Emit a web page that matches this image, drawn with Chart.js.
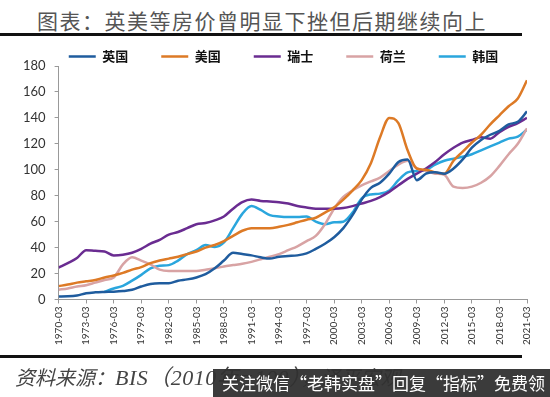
<!DOCTYPE html>
<html><head><meta charset="utf-8">
<script src="https://cdn.jsdelivr.net/npm/chart.js@4/dist/chart.umd.min.js"></script>
<style>
html,body{margin:0;padding:0;background:#fff;width:550px;height:397px;overflow:hidden;position:relative;}
#title{position:absolute;left:37px;top:7px;font-family:"Noto Sans CJK SC";font-size:21px;line-height:26px;color:#555;letter-spacing:1.5px;white-space:nowrap;}
.rule{position:absolute;left:0;width:522px;height:3px;background:#111;}
#chartBox{position:absolute;left:0;top:17px;width:550px;height:340px;}
#src{position:absolute;left:15px;top:364px;font-family:"Liberation Serif","Noto Sans CJK SC";font-style:italic;font-size:20px;line-height:28px;color:#444;white-space:nowrap;}
#src .lat{font-size:22px;letter-spacing:0.5px;}
#wm{position:absolute;left:213px;top:369px;width:337px;height:28px;background:rgba(48,48,48,0.95);color:#fff;font-family:"Noto Sans CJK SC";font-size:17px;line-height:28px;padding-left:9px;box-sizing:border-box;white-space:nowrap;}
</style></head>
<body>
<div id="title">图表：英美等房价曾明显下挫但后期继续向上</div>
<div class="rule" style="top:33px"></div>
<div id="chartBox"><canvas id="c" width="550" height="340"></canvas></div>
<div class="rule" style="top:355px"></div>
<div id="src">资料来源：<span class="lat">BIS（2010年=100）</span>，泽平宏观</div>
<div id="wm">关注微信“老韩实盘”回复“指标”免费领</div>
<script>
const years = [];
for (let y = 1970; y <= 2021; y++) years.push(y);
const seriesNames = ['英国','美国','瑞士','荷兰','韩国'];
const ukValues = [2.3,2.4,3.0,4.8,5.5,5.8,6,6.5,7.5,10, 12,12.6,12.6,14.5,15.5,17,19.5,24,30,36, 35,34,32.5,31.5,33,33.5,34,35.5,39,43, 48,55,65,77,86,90,97,106,108,92, 97,98,97,101,108,117,123,127,130,135, 137,145];
const usValues = [10.3,11.5,13,14,15,17,18.5,20.5,23,25, 28,30,31.5,33,35,37,40,42,45,49, 53,55,55,55,56,57.5,59.5,61.5,63,67, 71,77,84,92,105,125,140,136,115,101, 100,98,97,107,114,121,127,135,142,149, 155,169];
const chValues = [24.5,28,32,38,37.5,37,34,34.5,36,39, 43,46,50,52,55,58,59,61,64,70, 75,77,76,75.5,75,74,72,71,70,70, 70,70.5,72,74,76,79,83,88,93,97, 101,106,112,117,121,123,125,124,129,133, 136,140];
const nlValues = [7.5,8.5,10,11,13,15,17,27,32.5,30, 27,23,22,22,22,22,23,24,25.5,26.5, 27.5,29,31,33,35,38,41,45,49,58, 70,79,84,88,91,94,99,104,107,101, 99,97,96,87,86,87,90,95,103,112, 120,132];
const krValues = [null,null,null,null,null,6,8.5,10.5,14.5,19, 24,26,26.5,30,35,38,42,40.5,44,55, 66,72,69,65,64,63.6,63.6,64,60,58, 59.5,60,67,78,81,81.6,84,92,98,99, 100,104,107,108.5,110,112,115,118,121,124, 125.5,131];
const colors = ['#1F5C9E','#DD7A26','#6A2C91','#D8A3A4','#2AA6DD'];
const allValues = [ukValues, usValues, chValues, nlValues, krValues];
const yTicksMax = 180, yStep = 20, xStep = 3;

const datasets = allValues.map((vals, i) => ({
  label: seriesNames[i],
  data: years.map((y, j) => ({x: y, y: vals[j]})),
  borderColor: colors[i],
  backgroundColor: colors[i],
  borderWidth: 2.5,
  pointRadius: 0,
  tension: 0.2,
  cubicInterpolationMode: 'monotone',
  spanGaps: false
}));

const legendShift = {
  id: 'legendShift',
  afterLayout(chart) {
    const l = chart.legend;
    if (l) { l.left += 13; l.right += 13; }
  }
};

new Chart(document.getElementById('c'), {
  type: 'line',
  data: { datasets },
  plugins: [legendShift],
  options: {
    responsive: false,
    animation: false,
    layout: { padding: { left: 14, right: 23, top: 0, bottom: 9 } },
    plugins: {
      legend: {
        position: 'top',
        maxHeight: 49,
        labels: {
          usePointStyle: true,
          pointStyle: 'line',
          pointStyleWidth: 27,
          padding: 33,
          color: '#111',
          font: { family: '"Noto Sans CJK SC"', size: 13, weight: 'bold' }
        }
      },
      tooltip: { enabled: false }
    },
    scales: {
      x: {
        type: 'linear',
        min: years[0], max: years[years.length - 1],
        grid: { display: true, drawOnChartArea: false, drawTicks: true, tickLength: 4, color: '#999' },
        border: { color: '#999', width: 1 },
        ticks: {
          stepSize: xStep,
          minRotation: 90, maxRotation: 90,
          padding: 3,
          color: '#333',
          font: { family: 'Lato', size: 10 },
          callback: v => v + '-03'
        }
      },
      y: {
        min: 0, max: yTicksMax,
        grid: { display: true, drawOnChartArea: false, drawTicks: true, tickLength: 4, color: '#999' },
        border: { color: '#999', width: 1 },
        ticks: { stepSize: yStep, padding: 9, color: '#333', font: { family: 'Lato', size: 13 } }
      }
    }
  }
});
</script>
</body></html>
